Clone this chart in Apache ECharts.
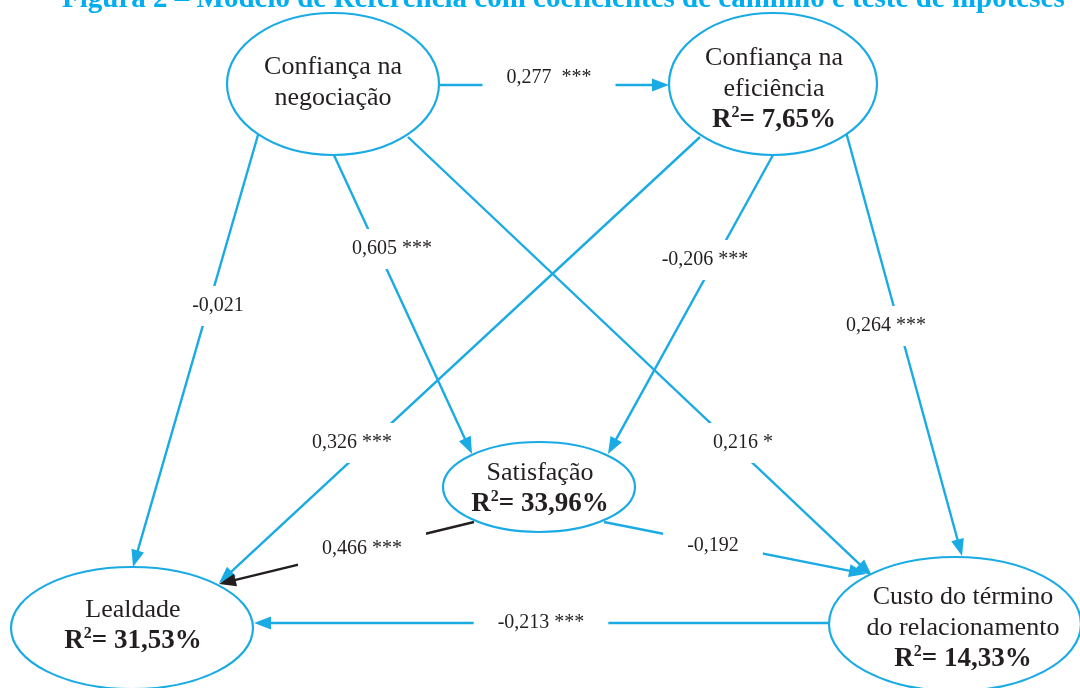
<!DOCTYPE html>
<html>
<head>
<meta charset="utf-8">
<script src="https://cdn.jsdelivr.net/npm/echarts@6/dist/echarts.min.js"></script>
<style>
html,body{margin:0;padding:0;background:#fff;}
#chart{width:1080px;height:688px;}
</style>
</head>
<body>
<div id="chart"></div>
<script>
// ---- Data ----
var titleText = 'Figura 2 – Modelo de Referência com coeficientes de caminho e teste de hipóteses';

var nodeNames = ['Confiança na negociação', 'Confiança na eficiência', 'Satisfação', 'Lealdade', 'Custo do término do relacionamento'];
var nodeLines = [['Confiança na', 'negociação'], ['Confiança na', 'eficiência'], ['Satisfação'], ['Lealdade'], ['Custo do término', 'do relacionamento']];
var nodeR2 = [null, '7,65%', '33,96%', '31,53%', '14,33%'];
var nodeCenter = [[333, 84], [773, 84], [539, 487], [132, 628], [955, 624]];
var nodeRadius = [[106, 71], [104, 71], [96, 45], [121, 61], [126, 67]];
var nodeTextPos = [[333, 83], [774, 89], [540, 489], [133, 626], [963, 628]];

var edgeSource = ['Confiança na negociação', 'Confiança na negociação', 'Confiança na negociação', 'Confiança na negociação',
  'Confiança na eficiência', 'Confiança na eficiência', 'Confiança na eficiência',
  'Satisfação', 'Satisfação', 'Custo do término do relacionamento'];
var edgeTarget = ['Confiança na eficiência', 'Lealdade', 'Satisfação', 'Custo do término do relacionamento',
  'Lealdade', 'Satisfação', 'Custo do término do relacionamento',
  'Lealdade', 'Custo do término do relacionamento', 'Lealdade'];
var edgeFrom = [[440, 85], [258, 135], [333, 153], [408, 137], [700, 137], [773, 155], [846, 132], [474, 522], [604, 522], [829, 623]];
var edgeTo = [[669, 85], [133, 567], [472, 454], [872, 576], [219, 583], [608, 454], [962, 556], [219, 584], [866, 574], [254, 623]];
var edgeCoef = ['0,277  ***', '-0,021', '0,605 ***', '0,216 *', '0,326 ***', '-0,206 ***', '0,264 ***', '0,466 ***', '-0,192', '-0,213 ***'];
var edgeLabelPos = [[549, 78], [218, 306], [392, 249], [743, 443], [352, 443], [705, 260], [886, 326], [362, 549], [713, 546], [541, 623]];

// ---- Chart ----
var BLUE = '#1aabe4';
var DARK = '#231f20';
var SERIF = '"Liberation Serif", "Times New Roman", serif';

var chart = echarts.init(document.getElementById('chart'));

var ellipseData = nodeCenter.map(function (c, i) { return [c[0], c[1], nodeRadius[i][0], nodeRadius[i][1], i]; });
var edgeData = edgeFrom.map(function (f, i) { return [f[0], f[1], edgeTo[i][0], edgeTo[i][1], i]; });
var edgeLabelData = edgeLabelPos.map(function (p, i) { return [p[0], p[1], edgeCoef[i]]; });
var nodeTextData = nodeTextPos.map(function (p, i) { return [p[0], p[1], i]; });

function nodeRich(i) {
  var parts = nodeLines[i].map(function (l) { return '{n|' + l + '}'; });
  if (nodeR2[i]) parts.push('{b|R}{s|2}{b|= ' + nodeR2[i] + '}');
  return parts.join('\n');
}

chart.setOption({
  backgroundColor: '#ffffff',
  animation: false,
  title: {
    text: titleText,
    left: 62,
    top: -15,
    padding: 0,
    textStyle: { color: '#00aeef', fontFamily: SERIF, fontWeight: 'bold', fontSize: 29 }
  },
  grid: { left: 0, right: 0, top: 0, bottom: 0 },
  xAxis: { type: 'value', min: 0, max: 1080, show: false },
  yAxis: { type: 'value', min: 0, max: 688, inverse: true, show: false },
  series: [
    {
      type: 'custom',
      name: 'edges',
      clip: false,
      z: 2,
      data: edgeData,
      renderItem: function (params, api) {
        var i = api.value(4);
        var p1 = api.coord([api.value(0), api.value(1)]);
        var p2 = api.coord([api.value(2), api.value(3)]);
        var dx = p2[0] - p1[0], dy = p2[1] - p1[1];
        var len = Math.sqrt(dx * dx + dy * dy);
        var ux = dx / len, uy = dy / len;
        var L = 17, W = 6.5;
        var bx = p2[0] - ux * L, by = p2[1] - uy * L;
        var color = (edgeSource[i] === 'Satisfação' && edgeTarget[i] === 'Lealdade') ? DARK : BLUE;
        return {
          type: 'group',
          children: [
            { type: 'line', shape: { x1: p1[0], y1: p1[1], x2: bx + ux * 2, y2: by + uy * 2 }, style: { stroke: color, lineWidth: 2.4 } },
            { type: 'polygon', shape: { points: [[p2[0], p2[1]], [bx - uy * W, by + ux * W], [bx + uy * W, by - ux * W]] }, style: { fill: color } }
          ]
        };
      }
    },
    {
      type: 'scatter',
      name: 'coef',
      z: 3,
      symbolSize: 0,
      itemStyle: { opacity: 1 },
      data: edgeLabelData,
      label: {
        show: true,
        position: 'inside',
        formatter: function (p) { return p.value[2]; },
        backgroundColor: '#ffffff',
        padding: [10, 24],
        color: DARK,
        fontFamily: SERIF,
        fontSize: 20
      }
    },
    {
      type: 'custom',
      name: 'nodes',
      clip: false,
      z: 4,
      data: ellipseData,
      renderItem: function (params, api) {
        var c = api.coord([api.value(0), api.value(1)]);
        var s = api.size([api.value(2), api.value(3)]);
        return {
          type: 'ellipse',
          shape: { cx: c[0], cy: c[1], rx: Math.abs(s[0]), ry: Math.abs(s[1]) },
          style: { fill: '#ffffff', stroke: BLUE, lineWidth: 2.2 }
        };
      }
    },
    {
      type: 'scatter',
      name: 'nodeText',
      z: 5,
      symbolSize: 0,
      itemStyle: { opacity: 1 },
      data: nodeTextData,
      label: {
        show: true,
        position: 'inside',
        formatter: function (p) { return nodeRich(p.value[2]); },
        fontFamily: SERIF,
        color: DARK,
        rich: {
          n: { fontFamily: SERIF, fontSize: 26, color: DARK, lineHeight: 31 },
          b: { fontFamily: SERIF, fontSize: 27, fontWeight: 'bold', color: DARK, lineHeight: 31 },
          s: { fontFamily: SERIF, fontSize: 16, fontWeight: 'bold', color: DARK, lineHeight: 20, verticalAlign: 'top' }
        }
      }
    }
  ]
});
</script>
</body>
</html>
